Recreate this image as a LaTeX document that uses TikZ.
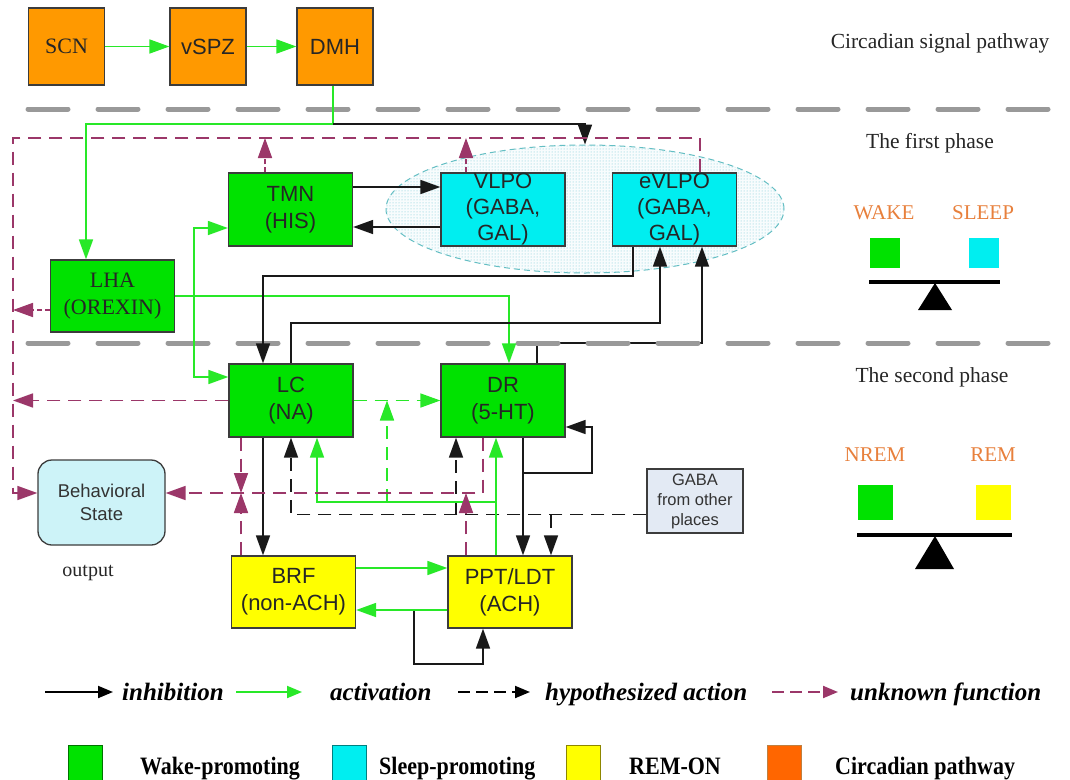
\documentclass[tikz,border=0pt]{standalone}
\usepackage{fontspec}
\setmainfont{Liberation Serif}
\newfontfamily\arialf{Liberation Sans}
\usetikzlibrary{arrows.meta,shapes.geometric,patterns}

\definecolor{wakeG}{RGB}{0,226,0}
\definecolor{lineG}{RGB}{40,232,40}
\definecolor{sleepC}{RGB}{0,238,240}
\definecolor{remY}{RGB}{255,255,0}
\definecolor{circO}{RGB}{255,153,0}
\definecolor{circR}{RGB}{255,102,0}
\definecolor{unkP}{RGB}{155,55,105}
\definecolor{sepG}{RGB}{153,153,153}
\definecolor{labO}{RGB}{232,128,60}
\definecolor{boxE}{RGB}{60,60,60}
\definecolor{bsFill}{RGB}{205,243,248}
\definecolor{gabaFill}{RGB}{227,234,244}
\definecolor{ellE}{RGB}{100,190,195}
\definecolor{ellDot}{RGB}{110,200,210}

\begin{document}
\begin{tikzpicture}[x=1pt,y=-1pt,
  box/.style={draw=boxE,line width=1.3pt,minimum width=124,minimum height=73,inner sep=0pt,
    align=center,text=black!85,font=\arialf\fontsize{22}{27}\selectfont},
  tri/.style={box,font=\arialf\fontsize{22}{26}\selectfont},
  wbox/.style={box,fill=wakeG},
  sbox/.style={tri,fill=sleepC},
  rbox/.style={box,fill=remY},
  obox/.style={box,fill=circO,minimum width=76,minimum height=77},
  serifbox/.style={font=\rmfamily\fontsize{22}{27}\selectfont},
  inh/.style={draw=black!90,line width=1.7pt,-{Triangle[length=20pt,width=14pt]}},
  act/.style={draw=lineG,line width=1.7pt,-{Triangle[length=20pt,width=14pt]}},
  actd/.style={act,dash pattern=on 13pt off 8pt},
  hyp/.style={inh,dash pattern=on 13pt off 8pt},
  unk/.style={draw=unkP,line width=1.7pt,dash pattern=on 13pt off 8pt,-{Triangle[length=20pt,width=14pt]}},
  unks/.style={unk,dash pattern=on 5pt off 3pt},
  sep/.style={draw=sepG,line width=5pt,line cap=round,dash pattern=on 40pt off 30pt},
  phase/.style={font=\rmfamily\fontsize{21.5}{26}\selectfont,text=black!85},
  scale lab/.style={font=\rmfamily\fontsize{21}{26}\selectfont,text=labO},
  legtext/.style={font=\rmfamily\bfseries\itshape\fontsize{25}{30}\selectfont,anchor=base west,inner sep=0pt},
  legbox/.style={font=\rmfamily\bfseries\fontsize{25}{30}\selectfont,anchor=base west,inner sep=0pt},
  legarrow/.style={line width=2pt,-{Triangle[length=15pt,width=12pt]}},
  sq/.style={minimum size=#1,inner sep=0pt}
]
\useasboundingbox (0,0) rectangle (1070,779);
\fill[white] (0,0) rectangle (1070,779);

% dotted ellipse around the sleep-promoting nuclei
\node[ellipse,draw=ellE,dash pattern=on 6pt off 4pt,line width=1pt,minimum width=398,minimum height=128,
  inner sep=0pt,fill=ellDot!5,postaction={pattern=dots,pattern color=ellDot}] (ell) at (585,209) {};

% phase separators (the DR to eVLPO line runs along the lower one)
\coordinate (yC) at (0,343);
\node[wbox] (DR) at (503,400.5) {DR\\(5-HT)};
\node[sbox] (eVLPO) at (674.5,209.5) {eVLPO\\(GABA,\\GAL)};
\draw[inh] ([xshift=34]DR.north) -- ([xshift=34]DR.north |- yC) -| ([xshift=27.5]eVLPO.south);
\draw[sep] (28,109) -- (1050,109);
\draw[sep] (28,343) -- (1050,343);

% circadian pathway
\node[obox,serifbox] (SCN) at (66.5,46.5) {SCN};
\node[obox] (vSPZ) at (208,46.5) {vSPZ};
\node[obox] (DMH) at (335,46.5) {DMH};

% first phase
\node[wbox] (TMN) at (290.5,209.5) {TMN\\(HIS)};
\node[sbox] (VLPO) at (503,209.5) {VLPO\\(GABA,\\GAL)};
\node[wbox,serifbox,minimum height=72] (LHA) at (112.5,296) {LHA\\(OREXIN)};

% second phase
\node[wbox] (LC) at (291,400.5) {LC\\(NA)};
\node[rbox,minimum height=72] (BRF) at (293.5,592) {BRF\\(non-ACH)};
\node[rbox,minimum height=72] (PPT) at (510,592) {PPT/LDT\\(ACH)};

% output and external input
\node[draw=boxE,line width=1.3pt,fill=bsFill,rounded corners=14pt,minimum width=127,minimum height=85,
  inner sep=0pt,align=center,text=black!80,font=\arialf\fontsize{18.5}{23}\selectfont] (BS) at (101.5,502.5) {Behavioral\\State};
\node[font=\rmfamily\fontsize{20}{24}\selectfont,text=black!85] (out) at (88,573) {output};
\node[draw=boxE,line width=1.3pt,fill=gabaFill,minimum width=96,minimum height=64,inner sep=0pt,
  align=center,text=black!80,font=\arialf\fontsize{16.5}{20}\selectfont] (GABA) at (695,501) {GABA\\from other\\places};

% circadian signal
\draw[act] (SCN) -- (vSPZ);
\draw[act] (vSPZ) -- (DMH);
\coordinate (jD) at (333,124);
\draw[act] (DMH.south -| jD) -- (jD) -| ([xshift=-26.5]LHA.north);
\draw[inh] (jD) -| (ell.north);

% orexin outputs
\coordinate (jL) at (194,296);
\draw[act] (LHA.east) -| ([xshift=6]DR.north);
\draw[act] (jL) |- ([yshift=-18.5]TMN.west);
\draw[act] (jL) |- ([yshift=23.5]LC.west);

% TMN / VLPO mutual inhibition
\draw[inh] ([yshift=22.5]TMN.east) -- ([yshift=22.5]TMN.east -| VLPO.west);
\draw[inh] ([yshift=-17.5]VLPO.west) -- ([yshift=-17.5]VLPO.west -| TMN.east);

% eVLPO and LC
\coordinate (yA) at (0,276);
\coordinate (yB) at (0,323);
\draw[inh] ([xshift=-41.5]eVLPO.south) -- ([xshift=-41.5]eVLPO.south |- yA) -| ([xshift=-28]LC.north);
\draw[inh] (LC.north) -- (LC.north |- yB) -| ([xshift=-14.5]eVLPO.south);

% monoaminergic to brainstem
\draw[inh] ([xshift=-28]LC.south) -- ([xshift=-28]LC.south |- BRF.north);
\draw[inh] ([xshift=20]DR.south) -- ([xshift=20]DR.south |- PPT.north);
\coordinate (jR) at (523,473);
\coordinate (xR) at (592,0);
\draw[inh] (jR) -- (jR -| xR) |- ([yshift=-26.5]DR.east);
\coordinate (jP) at (414,610);
\coordinate (yD) at (0,664);
\draw[inh] (jP) -- (jP |- yD) -| ([xshift=-27]PPT.south);

% GABA from other places
\coordinate (yE) at (0,514.5);
\draw[hyp] (GABA.west |- yE) -| (LC.south);
\draw[hyp] ([xshift=-47]DR.south |- yE) -- ([xshift=-47]DR.south);
\draw[hyp] ([xshift=41]PPT.north |- yE) -- ([xshift=41]PPT.north);

% activations in the second phase
\draw[actd] (LC.east) -- (DR.west);
\coordinate (jG) at (496,502);
\coordinate (jG2) at (387,502);
\draw[act] (PPT.north -| jG) -- (DR.south -| jG);
\draw[act] (jG) -| ([xshift=26]LC.south);
\draw[actd] (jG2) -- (jG2 |- LC.east);
\draw[act] ([yshift=24]BRF.east) -- ([yshift=24]BRF.east -| PPT.west);
\draw[act] ([yshift=-18]PPT.west) -- ([yshift=-18]PPT.west -| BRF.east);

% unknown functions towards the behavioral state
\coordinate (bT) at (13,138);
\coordinate (yF) at (0,493);
\draw[unk] ([xshift=25.5]eVLPO.north) |- (bT) |- ([yshift=9.5]BS.west);
\draw[unks] ([xshift=-25.5]TMN.north) -- ([xshift=-25.5]TMN.north |- bT);
\draw[unks] ([xshift=-37]VLPO.north) -- ([xshift=-37]VLPO.north |- bT);
\draw[unks] ([yshift=-14]LHA.west) -- ([yshift=-14]LHA.west -| bT);
\draw[unk] (LC.west) -- (LC.west -| bT);
\draw[unk] ([xshift=-20]DR.south) |- ([yshift=9.5]BS.east);
\draw[unk] ([xshift=-50]LC.south) -- ([xshift=-50]LC.south |- yF);
\draw[unk] ([xshift=-52.5]BRF.north) -- ([xshift=-52.5]BRF.north |- yF);
\draw[unk] ([xshift=-44]PPT.north) -- ([xshift=-44]PPT.north |- yF);

% phase titles
\node[phase] (t0) at (940,43) {Circadian signal pathway};
\node[phase] (t1) at (930,143) {The first phase};
\node[phase] (t2) at (932,377) {The second phase};

% wake / sleep balance
\node[scale lab] (lWake) at (884,213) {WAKE};
\node[scale lab] (lSleep) at (983,213) {SLEEP};
\node[sq=30,fill=wakeG] (qWake) at (885,253) {};
\node[sq=30,fill=sleepC] (qSleep) at (984,253) {};
\draw[line width=4pt] (869,282) -- (1000,282);
\fill (935,283) -- (952,310) -- (918,310) -- cycle;

% NREM / REM balance
\node[scale lab] (lNrem) at (875,455) {NREM};
\node[scale lab] (lRem) at (993,455) {REM};
\node[sq=35,fill=wakeG] (qNrem) at (875.5,502) {};
\node[sq=35,fill=remY] (qRem) at (993.5,502) {};
\draw[line width=4pt] (857,535) -- (1012,535);
\fill (935,536) -- (954,569) -- (915,569) -- cycle;

% arrow legend
\node[legtext] (gInh) at (122,700) {inhibition};
\node[legtext] (gAct) at (330,700) {activation};
\node[legtext] (gHyp) at (545,700) {hypothesized action};
\node[legtext] (gUnk) at (850,700) {unknown function};
\coordinate (s1) at (45,692);  \coordinate (e1) at (113,692);
\coordinate (s2) at (236,692); \coordinate (e2) at (302,692);
\coordinate (s3) at (458,692); \coordinate (e3) at (530,692);
\coordinate (s4) at (772,692); \coordinate (e4) at (838,692);
\draw[legarrow,draw=black] (s1) -- (e1);
\draw[legarrow,draw=lineG] (s2) -- (e2);
\draw[legarrow,draw=black,dash pattern=on 12pt off 6pt] (s3) -- (e3);
\draw[legarrow,draw=unkP,dash pattern=on 12pt off 6pt] (s4) -- (e4);

% colour legend
\node[sq=34,minimum height=38,fill=wakeG,draw=green!45!black,line width=1pt,anchor=north west] (kW) at (68,745) {};
\node[sq=34,minimum height=38,fill=sleepC,draw=teal,line width=1pt,anchor=north west] (kS) at (332,745) {};
\node[sq=34,minimum height=38,fill=remY,draw=olive,line width=1pt,anchor=north west] (kR) at (566,745) {};
\node[sq=34,minimum height=38,fill=circR,draw=brown,line width=1pt,anchor=north west] (kC) at (767,745) {};
\node[legbox] (nW) at (140,774) {\scalebox{0.88}[1]{Wake-promoting}};
\node[legbox] (nS) at (379,774) {\scalebox{0.88}[1]{Sleep-promoting}};
\node[legbox] (nR) at (629,774) {\scalebox{0.88}[1]{REM-ON}};
\node[legbox] (nC) at (835,774) {\scalebox{0.88}[1]{Circadian pathway}};
\end{tikzpicture}
\end{document}
